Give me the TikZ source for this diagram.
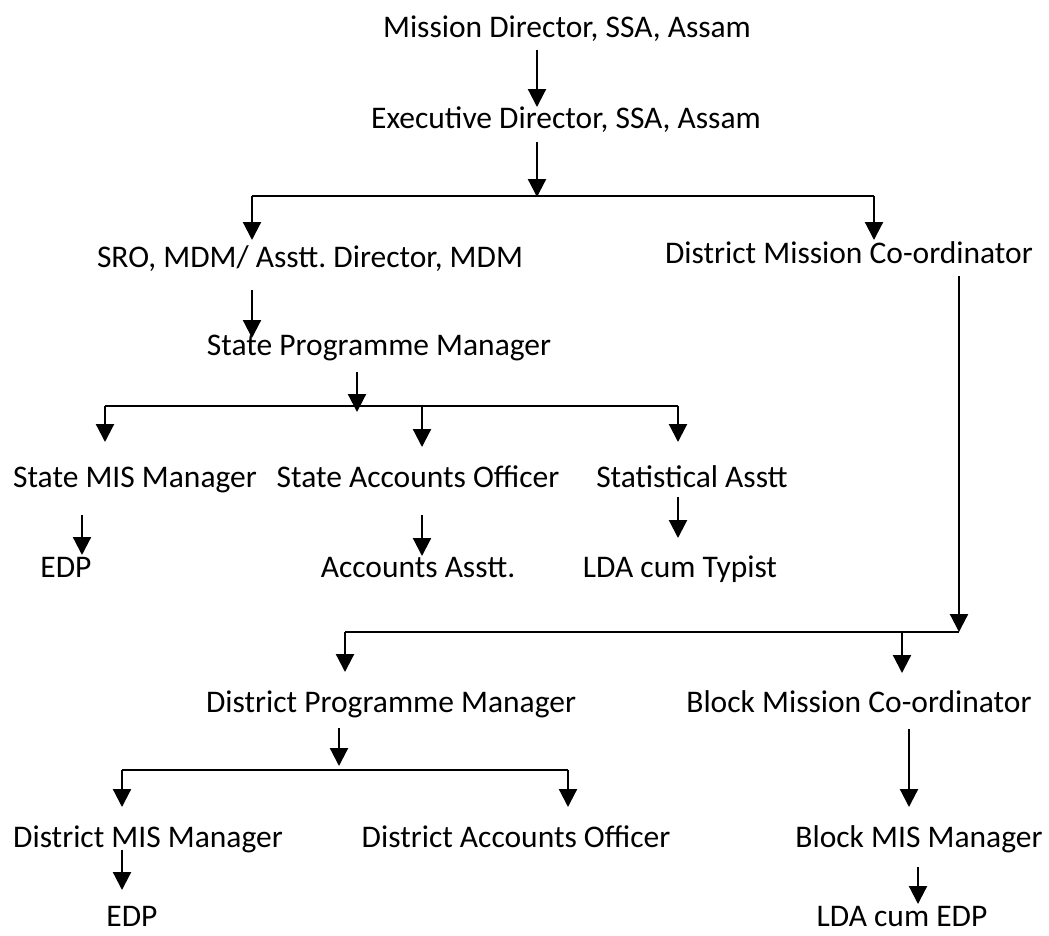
\documentclass[tikz,border=0pt]{standalone}
\usepackage{fontspec}
\setmainfont{Carlito}
\usetikzlibrary{arrows.meta}
\begin{document}
\begin{tikzpicture}[x=1pt,y=-1pt,
  lbl/.style={anchor=base,inner sep=0pt,font=\fontsize{31.5}{37}\selectfont},
  conn/.style={line width=2.2pt},
  arr/.style={conn,-{Triangle[width=18pt,length=18pt]}}]
\useasboundingbox (0,0) rectangle (1049,935);
% labels
\node[lbl] (md)   at (567,37)  {Mission Director, SSA, Assam};
\node[lbl] (ed)   at (566,128) {Executive Director, SSA, Assam};
\node[lbl] (sro)  at (310,267) {SRO, MDM/ Asstt.\ Director, MDM};
\node[lbl] (dmc)  at (849,263) {District Mission Co-ordinator};
\node[lbl] (spm)  at (379,355) {State Programme Manager};
\node[lbl] (smm)  at (135,487) {State MIS Manager};
\node[lbl] (sao)  at (418,487) {State Accounts Officer};
\node[lbl] (sta)  at (692,487) {Statistical Asstt};
\node[lbl] (edp1) at (66,577)  {EDP};
\node[lbl] (aa)   at (418,577) {Accounts Asstt.};
\node[lbl] (ldat) at (680,577) {LDA cum Typist};
\node[lbl] (dpm)  at (391,712) {District Programme Manager};
\node[lbl] (bmc)  at (859,712) {Block Mission Co-ordinator};
\node[lbl] (dmm)  at (148,847) {District MIS Manager};
\node[lbl] (dao)  at (516,847) {District Accounts Officer};
\node[lbl] (bmm)  at (919,847) {Block MIS Manager};
\node[lbl] (edp2) at (132,926) {EDP};
\node[lbl] (lde)  at (902,926) {LDA cum EDP};
% junction coordinates
\coordinate (a1s) at (537,50);   \coordinate (a1e) at (537,107);
\coordinate (a2s) at (537,142);  \coordinate (a2e) at (537,197);
\coordinate (b1l) at (252,196);  \coordinate (b1r) at (874,196);
\coordinate (sroT) at (252,240); \coordinate (dmcT) at (874,240);
\coordinate (a6s) at (252,290);  \coordinate (a6e) at (252,338);
\coordinate (a7s) at (357,372);  \coordinate (a7e) at (357,412);
\coordinate (b2l) at (105,406);  \coordinate (b2r) at (678,406);
\coordinate (b2m) at (422,406);
\coordinate (smmT) at (105,442); \coordinate (saoT) at (422,447); \coordinate (staT) at (678,442);
\coordinate (a12s) at (82,515);  \coordinate (a12e) at (82,555);
\coordinate (a13s) at (422,515); \coordinate (a13e) at (422,556);
\coordinate (a14s) at (678,497); \coordinate (a14e) at (678,538);
\coordinate (a15s) at (959,276); \coordinate (b3r) at (959,632);
\coordinate (b3l) at (345,632);  \coordinate (b3m) at (902,632);
\coordinate (dpmT) at (345,672); \coordinate (bmcT) at (902,673);
\coordinate (a19s) at (339,728); \coordinate (a19e) at (339,766);
\coordinate (b4l) at (122,770);  \coordinate (b4r) at (568,770);
\coordinate (dmmT) at (122,807); \coordinate (daoT) at (568,807);
\coordinate (a23s) at (909,729); \coordinate (a23e) at (909,807);
\coordinate (a24s) at (122,850); \coordinate (a24e) at (122,890);
\coordinate (a25s) at (918,867); \coordinate (a25e) at (918,904);
% connectors
\draw[arr] (a1s) -- (a1e);
\draw[arr] (a2s) -- (a2e);
\draw[conn] (b1l) -- (b1r);
\draw[arr] (b1l) -- (sroT);
\draw[arr] (b1r) -- (dmcT);
\draw[arr] (a6s) -- (a6e);
\draw[arr] (a7s) -- (a7e);
\draw[conn] (b2l) -- (b2r);
\draw[arr] (b2l) -- (smmT);
\draw[arr] (b2m) -- (saoT);
\draw[arr] (b2r) -- (staT);
\draw[arr] (a12s) -- (a12e);
\draw[arr] (a13s) -- (a13e);
\draw[arr] (a14s) -- (a14e);
\draw[arr] (a15s) -- (b3r);
\draw[conn] (b3l) -- (b3r);
\draw[arr] (b3l) -- (dpmT);
\draw[arr] (b3m) -- (bmcT);
\draw[arr] (a19s) -- (a19e);
\draw[conn] (b4l) -- (b4r);
\draw[arr] (b4l) -- (dmmT);
\draw[arr] (b4r) -- (daoT);
\draw[arr] (a23s) -- (a23e);
\draw[arr] (a24s) -- (a24e);
\draw[arr] (a25s) -- (a25e);
\end{tikzpicture}
\end{document}
